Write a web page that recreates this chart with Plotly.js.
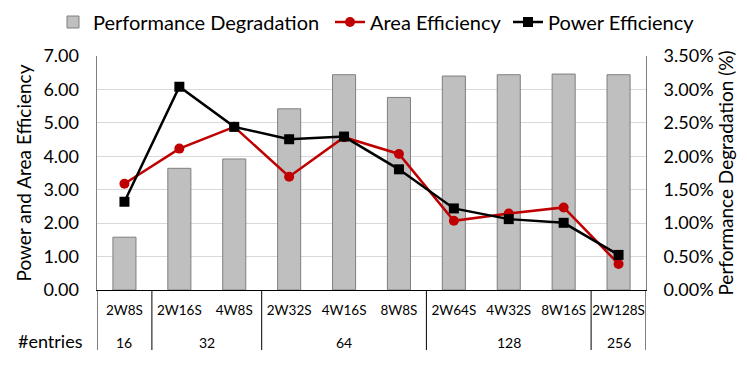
<!DOCTYPE html>
<html><head><meta charset="utf-8">
<script src="https://cdn.plot.ly/plotly-3.0.1.min.js"></script>
<style>body{margin:0;padding:0;background:#fff}#chart{width:747px;height:366px}</style>
</head><body><div id="chart"></div>
<script>
const configs = ['2W8S','2W16S','4W8S','2W32S','4W16S','8W8S','2W64S','4W32S','8W16S','2W128S'];
const entries = ['16','32','32','64','64','64','128','128','128','256'];
const perfDegradation = [0.0079,0.0182,0.0196,0.0271,0.0322,0.0288,0.0320,0.0322,0.0323,0.0322];
const areaEfficiency = [3.18,4.23,4.88,3.39,4.57,4.07,2.07,2.29,2.47,0.78];
const powerEfficiency = [2.64,6.08,4.88,4.51,4.59,3.61,2.44,2.12,2.01,1.05];

const font = 'Lato, Open Sans, sans-serif';
const traces = [
  {type:'bar', x:configs, y:perfDegradation, yaxis:'y', name:'Performance Degradation', legend:'legend',
   marker:{color:'#BFBFBF', line:{color:'#7F7F7F', width:1}}, width:0.42},
  {type:'scatter', mode:'lines+markers', x:configs, y:areaEfficiency, yaxis:'y2', name:'Area Efficiency',
   legend:'legend2',
   line:{color:'#C00000', width:2.5}, marker:{symbol:'circle', size:10, color:'#C00000'}},
  {type:'scatter', mode:'lines+markers', x:configs, y:powerEfficiency, yaxis:'y2', name:'Power Efficiency',
   legend:'legend3',
   line:{color:'#000000', width:2.5}, marker:{symbol:'square', size:10, color:'#000000'}}
];

// group boundaries and labels derived from the entries array
const plotH = 366 - 56 - 76;
const divBottom = -(350 - 290) / plotH;
const shapes = [];
const annotations = [];
let start = 0;
for (let i = 1; i <= entries.length; i++) {
  if (i === entries.length || entries[i] !== entries[start]) {
    annotations.push({text: entries[start], xref:'x', yref:'paper', x:(start + i - 1) / 2,
      y: -(342 - 290) / plotH, yanchor:'middle', xanchor:'center', showarrow:false, font:{size:14}});
    start = i;
  }
}
for (let i = 0; i <= entries.length; i++) {
  if (i === 0 || i === entries.length || entries[i] !== entries[i - 1]) {
    shapes.push({type:'line', xref:'x', yref:'paper', x0:i - 0.5, x1:i - 0.5, y0:0, y1:divBottom,
      line:{color:'#000', width:1}});
  }
}
annotations.push({text:'#entries', xref:'paper', yref:'paper', x:-0.022, y:-(341 - 290) / plotH,
  xanchor:'right', yanchor:'middle', showarrow:false, font:{size:18}});

function legendAt(xpx) {
  return {orientation:'h', xref:'container', yref:'container', x:xpx / 747, xanchor:'left',
          y:1 - 22/366, yanchor:'middle', font:{size:20}, itemwidth:30, bgcolor:'rgba(0,0,0,0)'};
}

const layout = {
  width:747, height:366,
  margin:{l:97, r:101, t:56, b:76},
  paper_bgcolor:'#fff', plot_bgcolor:'#fff',
  font:{family:font, color:'#000', size:15},
  showlegend:true,
  legend: legendAt(53),
  legend2: legendAt(330),
  legend3: legendAt(508),
  xaxis:{type:'category', range:[-0.5, 9.5], showgrid:false, showline:true, linecolor:'#000', linewidth:1,
         tickangle:0, tickfont:{size:13.5}, ticks:'', ticklabelstandoff:8, automargin:false},
  yaxis:{range:[0,0.035], dtick:0.005, tickformat:'.2%', side:'right',
         showgrid:true, gridcolor:'#D9D9D9', gridwidth:1, zeroline:false,
         showline:true, linecolor:'#7F7F7F', mirror:true, tickfont:{size:18}, ticklabelstandoff:13,
         automargin:false,
         title:{text:'Performance Degradation (%)', font:{size:19}, standoff:7}},
  yaxis2:{range:[0,7], dtick:1, tickformat:'.2f', overlaying:'y', side:'left',
         showgrid:false, zeroline:false, showline:false, tickfont:{size:18}, ticklabelstandoff:17,
         automargin:false,
         title:{text:'Power and Area Efficiency', font:{size:19}, standoff:6}},
  shapes: shapes,
  annotations: annotations
};
Plotly.newPlot('chart', traces, layout, {displayModeBar:false, staticPlot:true});
</script></body></html>
